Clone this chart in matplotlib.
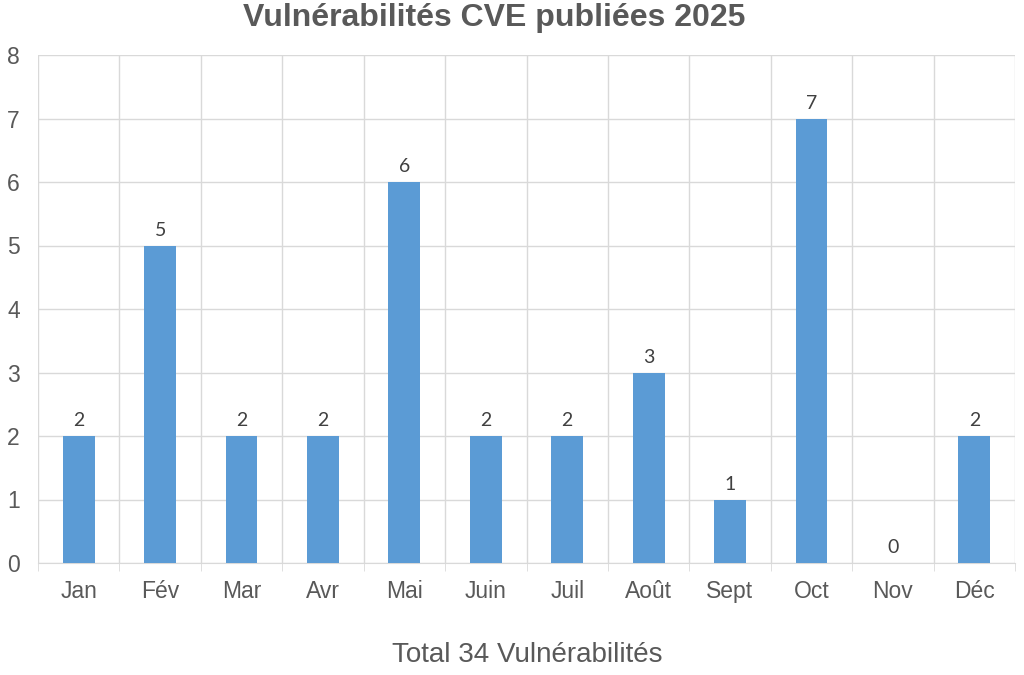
import matplotlib
matplotlib.use("Agg")
import matplotlib.pyplot as plt
import numpy as np

# Monthly counts of published CVEs (2025)
months = ["Jan", "Fév", "Mar", "Avr", "Mai", "Juin", "Juil", "Août", "Sept", "Oct", "Nov", "Déc"]
counts = [2, 5, 2, 2, 6, 2, 2, 3, 1, 7, 0, 2]
total_label = "Total 34 Vulnérabilités"
title = "Vulnérabilités CVE publiées 2025"

text_col = "#595959"
grid_col = "#d9d9d9"
bar_col = "#5b9bd5"

plt.rcParams["font.family"] = ["Liberation Sans", "DejaVu Sans"]

fig = plt.figure(figsize=(10.24, 6.75), dpi=100)
ax = fig.add_axes([38 / 1024, 1 - 563 / 675, (1015 - 38) / 1024, (563 - 55) / 675])

x = np.arange(len(months))
bars = ax.bar(x, counts, width=0.39, color=bar_col, zorder=3)

ax.set_xlim(-0.5, len(months) - 0.5)
ax.set_ylim(0, 8)
ax.set_yticks(range(0, 9))
ax.set_xticks(x)
ax.set_xticklabels(months)
ax.set_xticks(np.arange(-0.5, len(months)), minor=True)

ax.grid(axis="y", color=grid_col, linewidth=1, zorder=0)
ax.grid(axis="x", which="minor", color=grid_col, linewidth=1, zorder=0)
ax.grid(axis="x", which="major", visible=False)

for s in ["top", "right", "left"]:
    ax.spines[s].set_visible(False)
ax.spines["bottom"].set_color(grid_col)

ax.tick_params(axis="x", which="major", length=0, pad=12, labelsize=16.5, labelcolor=text_col)
ax.tick_params(axis="x", which="minor", length=6, color=grid_col)
ax.tick_params(axis="y", length=0, pad=13, labelsize=16.5, labelcolor=text_col)

for b, v in zip(bars, counts):
    ax.text(b.get_x() + b.get_width() / 2, v + 0.11, str(v), ha="center", va="bottom",
            fontsize=14, color="#404040", family=["Lato", "DejaVu Sans"])

fig.text(0.483, 1 - 18 / 675, title, ha="center", va="center", fontsize=23,
         fontweight="bold", color=text_col)
fig.text(0.515, 1 - 655 / 675, total_label, ha="center", va="center", fontsize=20,
         color=text_col)

fig.savefig("out.png", dpi=100, facecolor="white")
